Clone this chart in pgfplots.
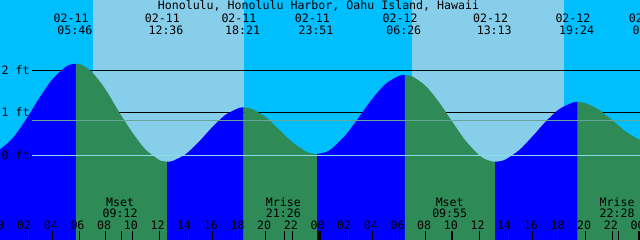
\documentclass[border=0pt]{standalone}
\usepackage{pgfplots}
\pgfplotsset{compat=1.18}
\usepackage{fontspec}
\newfontfamily\mono{DejaVu Sans Mono}
\newcommand\lblfont{\mono\fontsize{11.6}{13}\selectfont}
\definecolor{nightsky}{HTML}{00BFFF}
\definecolor{daysky}{HTML}{87CEEB}
\definecolor{rising}{HTML}{0000FF}
\definecolor{falling}{HTML}{2E8B57}
\definecolor{msl}{HTML}{64A89A}
\definecolor{datum}{HTML}{88DDE6}
\begin{document}
\begin{tikzpicture}[font=\lblfont]
\begin{axis}[
  scale only axis, width=640pt, height=240pt,
  xmin=0.075, xmax=48.075, ymin=-2.040, ymax=3.674,
  axis background/.style={fill=nightsky},
  axis line style={draw=none},
  ytick=\empty,
  xtick={0,2,...,48},
  xticklabels={00,02,04,06,08,10,12,14,16,18,20,22,00,02,04,06,08,10,12,14,16,18,20,22,00},
  minor xtick={9.2,21.4333,33.9167,46.4667},
  xtick pos=bottom,
  tick align=inside,
  major tick length=8.5pt, minor tick length=8.5pt,
  tick style={black, line width=1pt},
  extra x ticks={24,48}, extra x tick labels={},
  extra x tick style={tick style={black, line width=3pt}},
  xticklabel style={font=\lblfont, anchor=base, yshift=10pt, xshift=-1.5pt, inner sep=0pt},
  axis on top,
]
% daylight bands
\addplot[fill=daysky, draw=none] coordinates {(7.05,-3) (7.05,5) (18.375,5) (18.375,-3)} -- cycle;
\addplot[fill=daysky, draw=none] coordinates {(30.975,-3) (30.975,5) (42.375,5) (42.375,-3)} -- cycle;
% foot lines behind the water
\addplot[black, line width=1pt] coordinates {(2.475,2) (49,2)};
\addplot[black, line width=1pt] coordinates {(2.475,1) (49,1)};
% water: rising (blue) and falling (green)
\addplot[fill=rising, draw=none, smooth] coordinates {(-0.5,0.053) (0,0.103) (1,0.375) (2,0.818) (3,1.328) (4,1.785) (5,2.081) (5.4,2.138) (5.767,2.155)} -- (axis cs:5.767,-3) -- (axis cs:-0.5,-3) -- cycle;
\addplot[fill=falling, draw=none, smooth] coordinates {(5.767,2.155) (6.2,2.132) (7,1.95) (8,1.54) (9,1.01) (10,0.52) (11,0.11) (12,-0.132) (12.2,-0.157) (12.6,-0.176)} -- (axis cs:12.6,-3) -- (axis cs:5.767,-3) -- cycle;
\addplot[fill=rising, draw=none, smooth] coordinates {(12.6,-0.176) (13,-0.161) (14,0.003) (15,0.301) (16,0.648) (17,0.943) (18,1.103) (18.35,1.116)} -- (axis cs:18.35,-3) -- (axis cs:12.6,-3) -- cycle;
\addplot[fill=falling, draw=none, smooth] coordinates {(18.35,1.116) (18.7,1.105) (19,1.078) (20,0.887) (21,0.593) (22,0.289) (23,0.071) (23.5,0.018) (23.85,0.007)} -- (axis cs:23.85,-3) -- (axis cs:18.35,-3) -- cycle;
\addplot[fill=rising, draw=none, smooth] coordinates {(23.85,0.007) (24.5,0.052) (25,0.145) (26,0.460) (27,0.885) (28,1.323) (29,1.678) (30,1.868) (30.433,1.888)} -- (axis cs:30.433,-3) -- (axis cs:23.85,-3) -- cycle;
\addplot[fill=falling, draw=none, smooth] coordinates {(30.433,1.888) (31,1.852) (32,1.628) (33,1.240) (34,0.772) (35,0.322) (36,-0.017) (36.5,-0.120) (37,-0.171) (37.217,-0.176)} -- (axis cs:37.217,-3) -- (axis cs:30.433,-3) -- cycle;
\addplot[fill=rising, draw=none, smooth] coordinates {(37.217,-0.176) (37.6,-0.163) (38,-0.121) (39,0.095) (40,0.423) (41,0.779) (42,1.072) (43,1.230) (43.4,1.245)} -- (axis cs:43.4,-3) -- (axis cs:37.217,-3) -- cycle;
\addplot[fill=falling, draw=none, smooth] coordinates {(43.4,1.245) (44,1.217) (45,1.059) (46,0.807) (47,0.543) (48,0.350) (48.5,0.300)} -- (axis cs:48.5,-3) -- (axis cs:43.4,-3) -- cycle;
% mean sea level and datum lines in front
\addplot[msl, line width=1pt] coordinates {(2.475,0.81) (49,0.81)};
\addplot[datum, line width=1pt] coordinates {(2.475,-0.024) (49,-0.024)};
% title
\node[anchor=base, inner sep=0pt] at (axis cs:23.96,3.436) {Honolulu, Honolulu Harbor, Oahu Island, Hawaii};
% height labels
\node[anchor=base west, inner sep=0pt] at (axis cs:0.1875,1.912) {2 ft};
\node[anchor=base west, inner sep=0pt] at (axis cs:0.1875,0.912) {1 ft};
\node[anchor=base west, inner sep=0pt] at (axis cs:0.1875,-0.112) {0 ft};
% first hour label, cut by the left edge
\node[anchor=base, inner sep=0pt, xshift=-1.5pt] at (axis cs:0,-1.802) {00};
% tide event labels
\node[anchor=base, inner sep=0pt, xshift=-4.7pt] at (axis cs:5.767,3.143) {02-11};
\node[anchor=base, inner sep=0pt, xshift=-1pt] at (axis cs:5.767,2.864) {05:46};
\node[anchor=base, inner sep=0pt, xshift=-4.7pt] at (axis cs:12.6,3.143) {02-11};
\node[anchor=base, inner sep=0pt, xshift=-1pt] at (axis cs:12.6,2.864) {12:36};
\node[anchor=base, inner sep=0pt, xshift=-4.7pt] at (axis cs:18.35,3.143) {02-11};
\node[anchor=base, inner sep=0pt, xshift=-1pt] at (axis cs:18.35,2.864) {18:21};
\node[anchor=base, inner sep=0pt, xshift=-4.7pt] at (axis cs:23.85,3.143) {02-11};
\node[anchor=base, inner sep=0pt, xshift=-1pt] at (axis cs:23.85,2.864) {23:51};
\node[anchor=base, inner sep=0pt, xshift=-4.7pt] at (axis cs:30.433,3.143) {02-12};
\node[anchor=base, inner sep=0pt, xshift=-1pt] at (axis cs:30.433,2.864) {06:26};
\node[anchor=base, inner sep=0pt, xshift=-4.7pt] at (axis cs:37.217,3.143) {02-12};
\node[anchor=base, inner sep=0pt, xshift=-1pt] at (axis cs:37.217,2.864) {13:13};
\node[anchor=base, inner sep=0pt, xshift=-4.7pt] at (axis cs:43.4,3.143) {02-12};
\node[anchor=base, inner sep=0pt, xshift=-1pt] at (axis cs:43.4,2.864) {19:24};
\node[anchor=base, inner sep=0pt, xshift=-4.7pt] at (axis cs:48.9,3.143) {02-13};
\node[anchor=base, inner sep=0pt, xshift=-1pt] at (axis cs:48.9,2.864) {00:54};
% moon events
\node[anchor=base, inner sep=0pt, xshift=-1.5pt] at (axis cs:9.2,-1.231) {Mset};
\node[anchor=base, inner sep=0pt, xshift=-1.5pt] at (axis cs:9.2,-1.510) {09:12};
\node[anchor=base, inner sep=0pt, xshift=-1.5pt] at (axis cs:21.4333,-1.231) {Mrise};
\node[anchor=base, inner sep=0pt, xshift=-1.5pt] at (axis cs:21.4333,-1.510) {21:26};
\node[anchor=base, inner sep=0pt, xshift=-1.5pt] at (axis cs:33.9167,-1.231) {Mset};
\node[anchor=base, inner sep=0pt, xshift=-1.5pt] at (axis cs:33.9167,-1.510) {09:55};
\node[anchor=base, inner sep=0pt, xshift=-1.5pt] at (axis cs:46.4667,-1.231) {Mrise};
\node[anchor=base, inner sep=0pt, xshift=-1.5pt] at (axis cs:46.4667,-1.510) {22:28};
\end{axis}
\pgfresetboundingbox
\path (current axis.south west) rectangle (current axis.north east);
\end{tikzpicture}
\end{document}
